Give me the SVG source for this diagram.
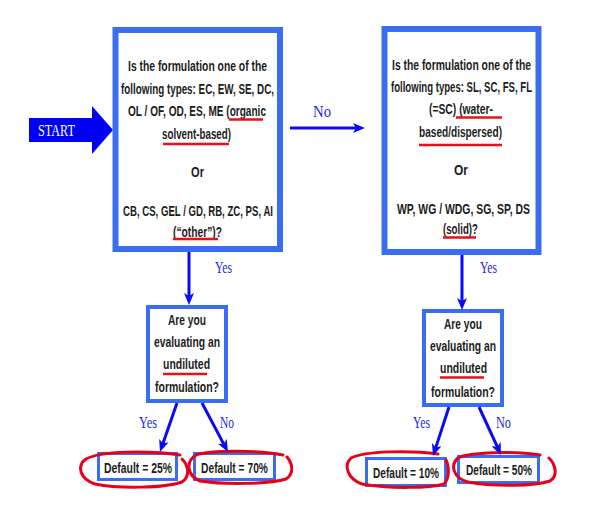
<svg xmlns="http://www.w3.org/2000/svg" width="600" height="513" viewBox="0 0 600 513">
<defs>
<style>
.box{fill:#fff;stroke:#3a6ef2;}
.big{stroke-width:6;}
.mid{stroke-width:4;}
.small{stroke-width:3;}
.t{font-family:"Liberation Sans",Arial,sans-serif;font-weight:bold;font-size:14px;fill:#1c1c1c;text-anchor:middle;}
.lbl{font-family:"Liberation Serif","Times New Roman",serif;font-size:17px;fill:#1f1fe6;}
.ul{stroke:#e8101a;stroke-width:2.5;fill:none;}
.loop{stroke:#e8001a;stroke-width:3;fill:none;stroke-linecap:round;}
.conn{stroke:#0a0af5;stroke-width:3;fill:none;}
</style>
<marker id="ah" viewBox="0 0 12 10" refX="4" refY="5" markerWidth="12" markerHeight="10" markerUnits="userSpaceOnUse" orient="auto">
<path d="M0,0 L12,5 L0,10 L3,5 Z" fill="#0a0af5"/>
</marker>
</defs>
<rect width="600" height="513" fill="#fff"/>

<g id="start">
<polygon points="29,118 92,118 92,106 113,130 92,154 92,142 29,142" fill="#0000f5"/>
<text x="38" y="135.5" textLength="37" lengthAdjust="spacingAndGlyphs" style="font-family:'Liberation Serif','Times New Roman',serif;font-size:16px;fill:#fff;">START</text>
</g>

<g id="q1">
<rect class="box big" x="115.5" y="30" width="164.5" height="219"/>
<text class="t" transform="translate(197.5,71) scale(0.72,1)" textLength="193" lengthAdjust="spacingAndGlyphs">Is the formulation one of the</text>
<text class="t" transform="translate(197.5,93.5) scale(0.72,1)" textLength="212.5" lengthAdjust="spacingAndGlyphs">following types: EC, EW, SE, DC,</text>
<text class="t" transform="translate(197,116) scale(0.72,1)" textLength="191.7" lengthAdjust="spacingAndGlyphs">OL / OF, OD, ES, ME (organic</text>
<text class="t" transform="translate(196.5,138.5) scale(0.72,1)" textLength="95.8" lengthAdjust="spacingAndGlyphs">solvent-based)</text>
<text class="t" transform="translate(197.5,176.5) scale(0.72,1)" textLength="18" lengthAdjust="spacingAndGlyphs">Or</text>
<text class="t" transform="translate(198,216) scale(0.72,1)" textLength="208.3" lengthAdjust="spacingAndGlyphs">CB, CS, GEL / GD, RB, ZC, PS, AI</text>
<text class="t" transform="translate(197.5,236.5) scale(0.72,1)" textLength="68" lengthAdjust="spacingAndGlyphs">(“other”)?</text>
<line class="ul" x1="229" y1="119.5" x2="263" y2="119.5"/>
<line class="ul" x1="163" y1="144" x2="229" y2="144"/>
<line class="ul" x1="173" y1="239" x2="218" y2="239"/>
</g>

<g id="q2">
<rect class="box big" x="384.5" y="29" width="154" height="223"/>
<text class="t" transform="translate(461.5,69.5) scale(0.72,1)" textLength="193" lengthAdjust="spacingAndGlyphs">Is the formulation one of the</text>
<text class="t" transform="translate(461.5,92) scale(0.72,1)" textLength="195.8" lengthAdjust="spacingAndGlyphs">following types: SL, SC, FS, FL</text>
<text class="t" transform="translate(461,114) scale(0.72,1)" textLength="88.9" lengthAdjust="spacingAndGlyphs">(=SC) (water-</text>
<text class="t" transform="translate(460.5,137) scale(0.72,1)" textLength="115.3" lengthAdjust="spacingAndGlyphs">based/dispersed)</text>
<text class="t" transform="translate(461,175) scale(0.72,1)" textLength="19.4" lengthAdjust="spacingAndGlyphs">Or</text>
<text class="t" transform="translate(463.5,214) scale(0.72,1)" textLength="184.7" lengthAdjust="spacingAndGlyphs">WP, WG / WDG, SG, SP, DS</text>
<text class="t" transform="translate(460.5,233.5) scale(0.72,1)" textLength="48.6" lengthAdjust="spacingAndGlyphs">(solid)?</text>
<line class="ul" x1="456" y1="117.5" x2="502" y2="117.5"/>
<line class="ul" x1="419" y1="145" x2="502" y2="145"/>
<line class="ul" x1="443" y1="237.5" x2="476" y2="237.5"/>
</g>

<g id="q3">
<rect class="box mid" x="148" y="307" width="78" height="94"/>
<text class="t" transform="translate(187,325) scale(0.72,1)" textLength="52.8" lengthAdjust="spacingAndGlyphs">Are you</text>
<text class="t" transform="translate(187,347) scale(0.72,1)" textLength="91.7" lengthAdjust="spacingAndGlyphs">evaluating an</text>
<text class="t" transform="translate(186.5,369) scale(0.72,1)" textLength="65.3" lengthAdjust="spacingAndGlyphs">undiluted</text>
<text class="t" transform="translate(187,392) scale(0.72,1)" textLength="88.9" lengthAdjust="spacingAndGlyphs">formulation?</text>
<line class="ul" x1="163" y1="374" x2="207" y2="374"/>
</g>

<g id="q4">
<rect class="box mid" x="424" y="311" width="78" height="94"/>
<text class="t" transform="translate(463,329) scale(0.72,1)" textLength="52.8" lengthAdjust="spacingAndGlyphs">Are you</text>
<text class="t" transform="translate(463,351) scale(0.72,1)" textLength="91.7" lengthAdjust="spacingAndGlyphs">evaluating an</text>
<text class="t" transform="translate(463.5,373) scale(0.72,1)" textLength="65.3" lengthAdjust="spacingAndGlyphs">undiluted</text>
<text class="t" transform="translate(463,397) scale(0.72,1)" textLength="88.9" lengthAdjust="spacingAndGlyphs">formulation?</text>
<line class="ul" x1="440" y1="377.5" x2="484" y2="377.5"/>
</g>

<g id="d25">
<rect class="box small" x="98.5" y="453.5" width="78" height="26"/>
<text class="t" transform="translate(138,472.5) scale(0.72,1)" textLength="94.4" lengthAdjust="spacingAndGlyphs">Default = 25%</text>
<path class="loop" d="M180,455 C150,450 100,451 86,459 C76,466 80,479 95,484 C120,489 165,488 182,482 C190,477 189,466 182,459"/>
</g>

<g id="d70">
<rect class="box small" x="194.5" y="453.5" width="80" height="26"/>
<text class="t" transform="translate(234.5,472.5) scale(0.72,1)" textLength="93" lengthAdjust="spacingAndGlyphs">Default = 70%</text>
<path class="loop" d="M283,455 C260,450 210,450 196,455 C186,461 186,475 200,481 C225,485 270,484 286,479 C294,474 293,464 287,457"/>
</g>

<g id="d10">
<rect class="box small" x="366.5" y="458.5" width="79" height="27"/>
<text class="t" transform="translate(406,478) scale(0.72,1)" textLength="91.7" lengthAdjust="spacingAndGlyphs">Default = 10%</text>
<path class="loop" d="M438,454 C410,450 365,451 351,458 C343,466 348,479 362,484 C390,489 430,488 444,484 C450,478 449,466 446,460"/>
</g>

<g id="d50">
<rect class="box small" x="458.5" y="456.5" width="80" height="26"/>
<text class="t" transform="translate(499,475) scale(0.72,1)" textLength="91.7" lengthAdjust="spacingAndGlyphs">Default = 50%</text>
<path class="loop" d="M540,455 C515,451 470,452 458,458 C450,465 453,478 468,482 C495,487 535,486 550,481 C558,476 556,465 549,458"/>
</g>

<g id="connectors">
<line class="conn" x1="290" y1="128" x2="357" y2="128" marker-end="url(#ah)"/>
<line class="conn" x1="189" y1="252" x2="189" y2="297" marker-end="url(#ah)"/>
<line class="conn" x1="462" y1="255" x2="462" y2="302" marker-end="url(#ah)"/>
<line class="conn" x1="177" y1="403" x2="162.6" y2="444.4" marker-end="url(#ah)"/>
<line class="conn" x1="202" y1="403" x2="224.2" y2="444.9" marker-end="url(#ah)"/>
<line class="conn" x1="449" y1="407" x2="435.5" y2="448.4" marker-end="url(#ah)"/>
<line class="conn" x1="479" y1="407" x2="497.7" y2="447.7" marker-end="url(#ah)"/>
<text class="lbl" x="313" y="117" textLength="18" lengthAdjust="spacingAndGlyphs" style="font-size:16px">No</text>
<text class="lbl" x="215" y="273" textLength="17" lengthAdjust="spacingAndGlyphs">Yes</text>
<text class="lbl" x="480" y="273" textLength="17" lengthAdjust="spacingAndGlyphs">Yes</text>
<text class="lbl" x="139" y="428" textLength="18" lengthAdjust="spacingAndGlyphs">Yes</text>
<text class="lbl" x="220" y="428" textLength="14" lengthAdjust="spacingAndGlyphs">No</text>
<text class="lbl" x="413" y="428" textLength="17" lengthAdjust="spacingAndGlyphs">Yes</text>
<text class="lbl" x="496" y="428" textLength="15" lengthAdjust="spacingAndGlyphs">No</text>
</g>
</svg>
